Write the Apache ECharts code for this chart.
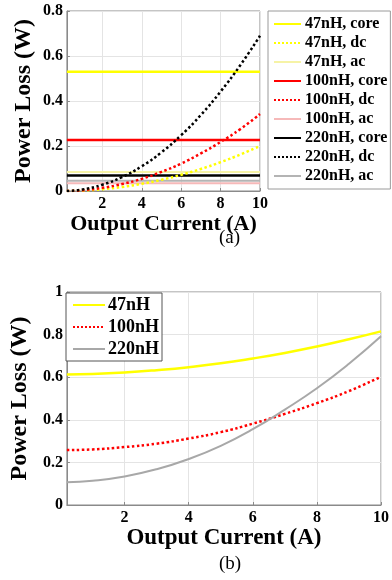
<!DOCTYPE html>
<html><head><meta charset="utf-8">
<script src="https://cdn.jsdelivr.net/npm/echarts@6/dist/echarts.min.js"></script>
<style>html,body{margin:0;padding:0;background:#fff}#c{width:392px;height:580px}</style>
</head><body><div id="c"></div>
<script>
// ---- Data (a) ----
const xA = [0.2, 1, 2, 3, 4, 5, 6, 7, 8, 9, 10];
const coreA = { '47nH': 0.53, '100nH': 0.227, '220nH': 0.069 };
const acA = { '47nH': 0.084, '100nH': 0.034, '220nH': 0.046 };
const dc47 = [0, 0.002, 0.008, 0.018, 0.032, 0.05, 0.072, 0.098, 0.128, 0.162, 0.2];
const dc100 = [0, 0.0034, 0.014, 0.031, 0.054, 0.085, 0.122, 0.167, 0.218, 0.275, 0.342];
const dc220 = [0, 0.007, 0.028, 0.062, 0.11, 0.172, 0.248, 0.338, 0.442, 0.559, 0.69];
// ---- Data (b) ----
const xB = [0.2, 1, 2, 3, 4, 5, 6, 7, 8, 9, 10];
const tot47 = [0.613, 0.615, 0.622, 0.633, 0.647, 0.665, 0.688, 0.714, 0.744, 0.778, 0.815];
const tot100 = [0.258, 0.261, 0.272, 0.288, 0.312, 0.342, 0.382, 0.428, 0.478, 0.535, 0.602];
const tot220 = [0.107, 0.114, 0.134, 0.168, 0.216, 0.278, 0.356, 0.448, 0.548, 0.663, 0.792];
const xTicks = [2, 4, 6, 8, 10];

const FF = "'Liberation Serif','Times New Roman',serif";
const pair = (xs, ys) => xs.map((x, i) => [x, ys[i]]);
const flat = (xs, v) => [[xs[0], v], [xs[xs.length - 1], v]];

const C = { y: '#ffff00', yl: '#f6f3a6', r: '#ff0000', rl: '#f6b9b9', k: '#000000', g: '#b4b4b4' };

function ln(name, data, color, width, type, gi, z) {
  return { name, type: 'line', xAxisIndex: gi, yAxisIndex: gi, data, showSymbol: false, symbol: 'none',
    smooth: true, lineStyle: { color, width, type }, itemStyle: { color }, z: z || 2, animation: false };
}

const seriesA = [
  ln('47nH, core', flat(xA, coreA['47nH']), C.y, 2.5, 'solid', 0),
  ln('47nH, dc', pair(xA, dc47), C.y, 2.5, 'dotted', 0, 3),
  ln('47nH, ac', flat(xA, acA['47nH']), C.yl, 2, 'solid', 0),
  ln('100nH, core', flat(xA, coreA['100nH']), C.r, 2.5, 'solid', 0),
  ln('100nH, dc', pair(xA, dc100), C.r, 2.5, 'dotted', 0, 3),
  ln('100nH, ac', flat(xA, acA['100nH']), C.rl, 2, 'solid', 0),
  ln('220nH, core', flat(xA, coreA['220nH']), C.k, 2.5, 'solid', 0),
  ln('220nH, dc', pair(xA, dc220), C.k, 2.5, 'dotted', 0, 3),
  ln('220nH, ac', flat(xA, acA['220nH']), C.g, 2, 'solid', 0)
];
const seriesB = [
  ln('47nH', pair(xB, tot47), C.y, 2.5, 'solid', 1),
  ln('100nH', pair(xB, tot100), C.r, 2.5, 'dotted', 1),
  ln('220nH', pair(xB, tot220), '#a8a8a8', 2, 'solid', 1)
];

function xAx(gi, nameSize, gap) {
  return { type: 'value', gridIndex: gi, min: 0.2, max: 10, name: 'Output Current (A)', nameLocation: 'middle', nameGap: gap,
    nameTextStyle: { fontFamily: FF, fontWeight: 'bold', fontSize: nameSize, color: '#000' },
    axisLine: { show: true, lineStyle: { color: '#8a8a8a' } },
    axisTick: { show: true, inside: true, length: 3, lineStyle: { color: '#8a8a8a' }, customValues: xTicks },
    axisLabel: { fontFamily: FF, fontWeight: 'bold', fontSize: 16, color: '#000', margin: 5, customValues: xTicks },
    splitLine: { show: true, lineStyle: { color: '#e4e4e4' } } };
}
function yAx(gi, max, nameSize, gap) {
  return { type: 'value', gridIndex: gi, min: 0, max, interval: 0.2, name: 'Power Loss (W)', nameLocation: 'middle', nameGap: gap,
    nameTextStyle: { fontFamily: FF, fontWeight: 'bold', fontSize: nameSize, color: '#000' },
    axisLine: { show: true, lineStyle: { color: '#8a8a8a' } },
    axisTick: { show: true, inside: true, length: 3, lineStyle: { color: '#8a8a8a' } },
    axisLabel: { fontFamily: FF, fontWeight: 'bold', fontSize: 16, color: '#000', margin: 4 },
    splitLine: { show: true, lineStyle: { color: '#e4e4e4' } } };
}

const chart = echarts.init(document.getElementById('c'), null, { renderer: 'canvas' });
chart.setOption({
  animation: false,
  backgroundColor: '#fff',
  grid: [
    { left: 58, top: 11, width: 202, height: 180, show: true, borderColor: '#8a8a8a', borderWidth: 1, backgroundColor: '#fff' },
    { left: 63, top: 292, width: 321, height: 213, show: true, borderColor: '#8a8a8a', borderWidth: 1, backgroundColor: '#fff' }
  ],
  xAxis: [xAx(0, 22, 18), xAx(1, 23, 20)],
  yAxis: [yAx(0, 0.8, 24, 31), yAx(1, 1, 24, 32)],
  legend: [
    { data: seriesA.map(s => s.name), orient: 'vertical', left: 268, top: 11, itemWidth: 27, itemHeight: 12, itemGap: 3,
      padding: [5, 3, 5, 5], borderColor: '#9a9a9a', borderWidth: 1, backgroundColor: '#fff',
      itemStyle: { opacity: 0 },
      textStyle: { fontFamily: FF, fontWeight: 'bold', fontSize: 16, color: '#000', padding: [0, 0, 0, -1] } },
    { data: seriesB.map(s => s.name), orient: 'vertical', left: 66, top: 293, itemWidth: 32, itemHeight: 12, itemGap: 4,
      padding: [3, 3, 3, 6], borderColor: '#555', borderWidth: 1, backgroundColor: '#fff',
      itemStyle: { opacity: 0 },
      textStyle: { fontFamily: FF, fontWeight: 'bold', fontSize: 18, color: '#000', padding: [0, 0, 0, -2] } }
  ],
  graphic: [
    { type: 'text', left: 219, top: 229, style: { text: '(a)', font: "19px 'Liberation Serif', serif", fill: '#000' } },
    { type: 'text', left: 219, top: 555, style: { text: '(b)', font: "19px 'Liberation Serif', serif", fill: '#000' } }
  ],
  series: seriesA.concat(seriesB)
});
</script></body></html>
